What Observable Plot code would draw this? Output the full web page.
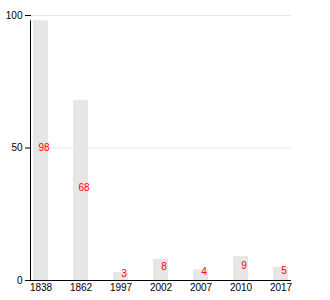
<!DOCTYPE html>
<html>
<head>
<meta charset="utf-8">
<script src="https://cdn.jsdelivr.net/npm/d3@7"></script>
<script src="https://cdn.jsdelivr.net/npm/@observablehq/plot@0.6"></script>
<style>
  body { margin: 0; background: #fff; }
</style>
</head>
<body>
<div id="chart"></div>
<script>
const years = ["1838", "1862", "1997", "2002", "2007", "2010", "2017"];
const values = [98, 68, 3, 8, 4, 9, 5];
const yTicks = [0, 50, 100];

const data = years.map((year, i) => ({year, value: values[i]}));
const maxValue = d3.max(values);

const chart = Plot.plot({
  width: 330,
  height: 300,
  marginLeft: 31,
  marginRight: 39,
  marginTop: 15,
  marginBottom: 20,
  style: {fontFamily: "'Liberation Sans', Arial, sans-serif", fontSize: "10px", color: "#000"},
  x: {domain: years, paddingInner: 0.62, paddingOuter: 0.025, label: null},
  y: {domain: [0, 100], label: null},
  marks: [
    Plot.gridY(yTicks, {stroke: "#e6e6e6", strokeOpacity: 1}),
    Plot.axisY(yTicks, {tickSize: 6, tickPadding: 3, label: null}),
    Plot.axisX({tickSize: 0, tickPadding: 3, label: null}),
    Plot.barY(data, {x: "year", y: "value", fill: "#e6e6e6"}),
    Plot.text(data, {x: "year", y: d => d.value / 2, text: d => String(d.value), fill: "red", fontSize: 10, dx: 3, dy: -3}),
    Plot.ruleY([0], {stroke: "#000"}),
    (index, scales, channels, dimensions) => {
      const g = d3.create("svg:g");
      g.append("line")
        .attr("x1", dimensions.marginLeft - 0.5)
        .attr("x2", dimensions.marginLeft - 0.5)
        .attr("y1", scales.y(0))
        .attr("y2", scales.y(maxValue))
        .attr("stroke", "#000");
      return g.node();
    }
  ]
});

document.getElementById("chart").appendChild(chart);
</script>
</body>
</html>
